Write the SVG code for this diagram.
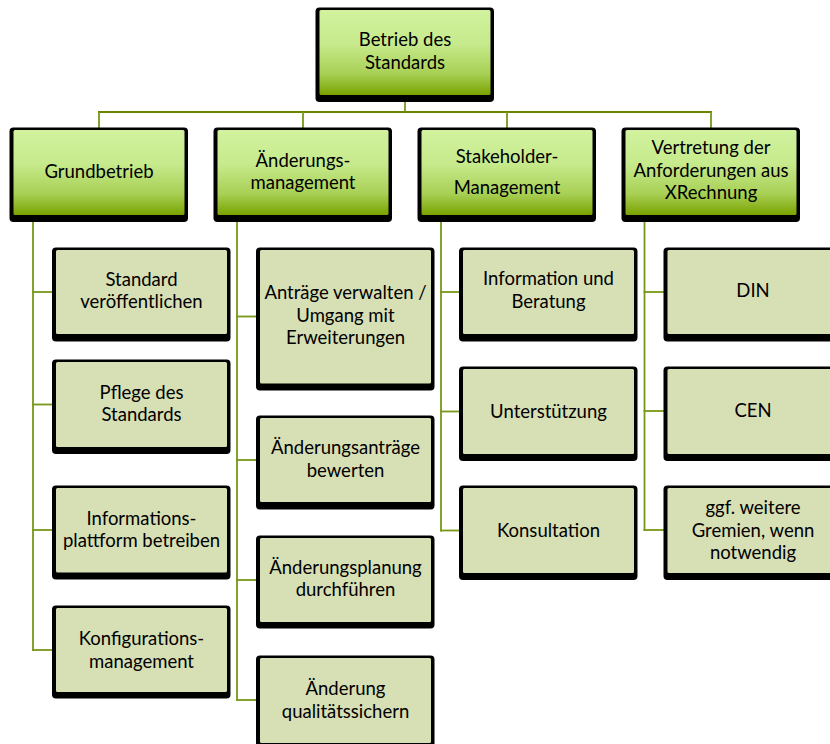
<svg xmlns="http://www.w3.org/2000/svg" width="830" height="744" viewBox="0 0 830 744">
<defs>
<linearGradient id="g1" x1="0" y1="0" x2="0" y2="1">
<stop offset="0" stop-color="#d2f29f"/>
<stop offset="0.4" stop-color="#c6ea8c"/>
<stop offset="0.75" stop-color="#a8d055"/>
<stop offset="1" stop-color="#7aa200"/>
</linearGradient>
<style>
.sh{fill:#000;}
.l1{fill:url(#g1);}
.l2{fill:#d7dfb4;}
text{font-family:Lato,"Open Sans","Liberation Sans",sans-serif;font-size:18.5px;fill:#000;text-anchor:middle;}
.c line{stroke:#789818;stroke-width:1.8;fill:none;}
</style>
</defs>
<rect width="830" height="744" fill="#fff"/>
<g class="c" id="connectors">
<line x1="405" y1="102" x2="405" y2="112"/>
<line x1="98" y1="112" x2="712" y2="112" style="stroke:#6a8600"/>
<line x1="99" y1="112" x2="99" y2="128"/>
<line x1="303" y1="112" x2="303" y2="128"/>
<line x1="507" y1="112" x2="507" y2="128"/>
<line x1="711" y1="112" x2="711" y2="128"/>
<line x1="33" y1="221" x2="33" y2="650.9"/>
<line x1="32.1" y1="292" x2="52" y2="292"/>
<line x1="32.1" y1="404.5" x2="52" y2="404.5"/>
<line x1="32.1" y1="530" x2="52" y2="530"/>
<line x1="32.1" y1="650" x2="52" y2="650"/>
<line x1="237" y1="221" x2="237" y2="700.9"/>
<line x1="236.1" y1="316.5" x2="256" y2="316.5"/>
<line x1="236.1" y1="460" x2="256" y2="460"/>
<line x1="236.1" y1="580" x2="256" y2="580"/>
<line x1="236.1" y1="700" x2="256" y2="700"/>
<line x1="441" y1="221" x2="441" y2="531.4"/>
<line x1="440.1" y1="292" x2="459" y2="292"/>
<line x1="440.1" y1="411.5" x2="459" y2="411.5"/>
<line x1="440.1" y1="530.5" x2="459" y2="530.5"/>
<line x1="644.5" y1="221" x2="644.5" y2="530.9"/>
<line x1="643.6" y1="292" x2="664" y2="292"/>
<line x1="643.6" y1="411" x2="664" y2="411"/>
<line x1="643.6" y1="530" x2="664" y2="530"/>
</g>
<g id="n-top">
<rect class="sh" x="315.5" y="7.5" width="178.5" height="94.5" rx="4"/>
<rect class="l1" x="319.5" y="10" width="171" height="85" rx="1.5"/>
<text x="405" y="46">Betrieb des</text>
<text x="405" y="68.5">Standards</text>
</g>
<g id="n-grundbetrieb">
<rect class="sh" x="9.5" y="127.5" width="178.5" height="94.5" rx="4"/>
<rect class="l1" x="13.5" y="130" width="171" height="85" rx="1.5"/>
<text x="99" y="177.5">Grundbetrieb</text>
</g>
<g id="n-aenderungsmanagement">
<rect class="sh" x="213.5" y="127.5" width="178.5" height="94.5" rx="4"/>
<rect class="l1" x="217.5" y="130" width="171" height="85" rx="1.5"/>
<text x="303" y="166.5">Änderungs-</text>
<text x="303" y="188.5">management</text>
</g>
<g id="n-stakeholder">
<rect class="sh" x="417.5" y="127.5" width="178.5" height="94.5" rx="4"/>
<rect class="l1" x="421.5" y="130" width="171" height="85" rx="1.5"/>
<text x="507" y="162.5">Stakeholder-</text>
<text x="507" y="193.5">Management</text>
</g>
<g id="n-vertretung">
<rect class="sh" x="621.5" y="127.5" width="178.5" height="94.5" rx="4"/>
<rect class="l1" x="625.5" y="130" width="171" height="85" rx="1.5"/>
<text x="711" y="154">Vertretung der</text>
<text x="711" y="176.5">Anforderungen aus</text>
<text x="711" y="199">XRechnung</text>
</g>
<g id="n-standard-veroeffentlichen">
<rect class="sh" x="52" y="247.5" width="178.5" height="94" rx="4"/>
<rect class="l2" x="56" y="250" width="171" height="84" rx="1.5"/>
<text x="141.5" y="285.5">Standard</text>
<text x="141.5" y="307.5">veröffentlichen</text>
</g>
<g id="n-pflege">
<rect class="sh" x="52" y="359.5" width="178.5" height="94.5" rx="4"/>
<rect class="l2" x="56" y="362" width="171" height="85" rx="1.5"/>
<text x="141.5" y="399">Pflege des</text>
<text x="141.5" y="421">Standards</text>
</g>
<g id="n-informationsplattform">
<rect class="sh" x="52" y="485.5" width="178.5" height="94" rx="4"/>
<rect class="l2" x="56" y="488" width="171" height="84.5" rx="1.5"/>
<text x="141.5" y="524.5">Informations-</text>
<text x="141.5" y="547">plattform betreiben</text>
</g>
<g id="n-konfigurationsmanagement">
<rect class="sh" x="52" y="605.5" width="178.5" height="93" rx="4"/>
<rect class="l2" x="56" y="608" width="171" height="84" rx="1.5"/>
<text x="141.5" y="645">Konfigurations-</text>
<text x="141.5" y="667.5">management</text>
</g>
<g id="n-antraege">
<rect class="sh" x="256" y="247.5" width="178.5" height="143" rx="4"/>
<rect class="l2" x="260" y="250" width="171" height="133.5" rx="1.5"/>
<text x="345.5" y="299">Anträge verwalten /</text>
<text x="345.5" y="321.5">Umgang mit</text>
<text x="345.5" y="343.5">Erweiterungen</text>
</g>
<g id="n-aenderungsantraege">
<rect class="sh" x="256" y="415.5" width="178.5" height="94" rx="4"/>
<rect class="l2" x="260" y="418" width="171" height="84" rx="1.5"/>
<text x="345.5" y="454">Änderungsanträge</text>
<text x="345.5" y="476.5">bewerten</text>
</g>
<g id="n-aenderungsplanung">
<rect class="sh" x="256" y="535.5" width="178.5" height="93" rx="4"/>
<rect class="l2" x="260" y="538" width="171" height="84" rx="1.5"/>
<text x="345.5" y="574">Änderungsplanung</text>
<text x="345.5" y="596">durchführen</text>
</g>
<g id="n-aenderung-qualitaet">
<rect class="sh" x="256" y="655.5" width="178.5" height="94" rx="4"/>
<rect class="l2" x="260" y="658" width="171" height="85" rx="1.5"/>
<text x="345.5" y="695">Änderung</text>
<text x="345.5" y="717.5">qualitätssichern</text>
</g>
<g id="n-information-beratung">
<rect class="sh" x="459" y="247.5" width="178.5" height="94" rx="4"/>
<rect class="l2" x="463" y="250" width="171" height="84" rx="1.5"/>
<text x="548.5" y="285">Information und</text>
<text x="548.5" y="307.5">Beratung</text>
</g>
<g id="n-unterstuetzung">
<rect class="sh" x="459" y="366.5" width="178.5" height="94.5" rx="4"/>
<rect class="l2" x="463" y="369" width="171" height="85" rx="1.5"/>
<text x="548.5" y="417.5">Unterstützung</text>
</g>
<g id="n-konsultation">
<rect class="sh" x="459" y="485.5" width="178.5" height="94.5" rx="4"/>
<rect class="l2" x="463" y="488" width="171" height="85" rx="1.5"/>
<text x="548.5" y="536.5">Konsultation</text>
</g>
<g id="n-din">
<rect class="sh" x="663.5" y="247.5" width="178.5" height="94" rx="4"/>
<rect class="l2" x="667.5" y="250" width="171" height="84" rx="1.5"/>
<text x="753" y="297">DIN</text>
</g>
<g id="n-cen">
<rect class="sh" x="663.5" y="366.5" width="178.5" height="94.5" rx="4"/>
<rect class="l2" x="667.5" y="369" width="171" height="85" rx="1.5"/>
<text x="753" y="417">CEN</text>
</g>
<g id="n-weitere-gremien">
<rect class="sh" x="663.5" y="485.5" width="178.5" height="94.5" rx="4"/>
<rect class="l2" x="667.5" y="488" width="171" height="85" rx="1.5"/>
<text x="753" y="513.5">ggf. weitere</text>
<text x="753" y="536.5">Gremien, wenn</text>
<text x="753" y="558.5">notwendig</text>
</g>
</svg>
